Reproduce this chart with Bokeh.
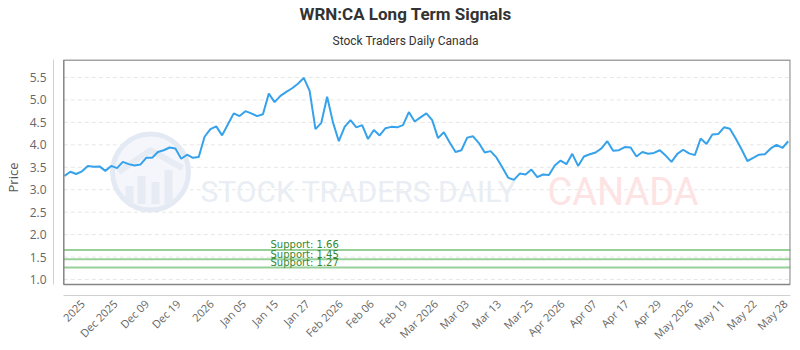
import math
from bokeh.plotting import figure
from bokeh.models import Range1d, FixedTicker, Label, BoxAnnotation, PrintfTickFormatter, Title
from bokeh.embed import file_html
from bokeh.resources import INLINE

# ---------------- data ----------------
prices = [
    3.31, 3.40, 3.35, 3.41, 3.53, 3.51, 3.52, 3.42, 3.53, 3.48,
    3.62, 3.57, 3.54, 3.56, 3.71, 3.71, 3.84, 3.88, 3.94, 3.92,
    3.69, 3.78, 3.71, 3.73, 4.18, 4.35, 4.41, 4.21, 4.46, 4.70,
    4.64, 4.75, 4.70, 4.64, 4.68, 5.14, 4.95, 5.09, 5.18, 5.26,
    5.36, 5.49, 5.20, 4.35, 4.49, 5.07, 4.50, 4.08, 4.40, 4.55,
    4.39, 4.44, 4.13, 4.33, 4.21, 4.37, 4.40, 4.39, 4.44, 4.73,
    4.52, 4.61, 4.70, 4.55, 4.15, 4.28, 4.05, 3.84, 3.88, 4.16,
    4.19, 4.04, 3.83, 3.86, 3.72, 3.50, 3.27, 3.22, 3.36, 3.34,
    3.45, 3.28, 3.34, 3.33, 3.54, 3.65, 3.57, 3.80, 3.53, 3.74,
    3.79, 3.83, 3.92, 4.08, 3.87, 3.88, 3.95, 3.94, 3.74, 3.84,
    3.80, 3.82, 3.88, 3.76, 3.62, 3.80, 3.89, 3.81, 3.77, 4.14,
    4.02, 4.23, 4.24, 4.39, 4.36, 4.14, 3.90, 3.64, 3.71, 3.78,
    3.79, 3.92, 4.00, 3.93, 4.08,
]
x_idx = list(range(len(prices)))

tick_labels = ["2025", "Dec 2025", "Dec 09", "Dec 19", "2026", "Jan 05", "Jan 15",
               "Jan 27", "Feb 2026", "Feb 06", "Feb 19", "Mar 2026", "Mar 03",
               "Mar 13", "Mar 25", "Apr 2026", "Apr 07", "Apr 17", "Apr 29",
               "May 2026", "May 11", "May 22", "May 28"]
tick_pos = [3.1, 8.7, 14.1, 19.5, 25.2, 30.7, 36.2, 41.6, 47.3, 52.6, 58.3, 63.6,
            68.9, 74.4, 79.9, 85.3, 90.8, 96.3, 101.8, 107.3, 112.7, 118.2, 123.5]

y_ticks = [1.0, 1.5, 2.0, 2.5, 3.0, 3.5, 4.0, 4.5, 5.0, 5.5]

support_levels = [1.66, 1.45, 1.27]
support_labels = ["Support: 1.66", "Support: 1.45", "Support: 1.27"]

title_text = "WRN:CA Long Term Signals"
subtitle_text = "Stock Traders Daily Canada"

# ---------------- geometry ----------------
W, H = 800, 350
FL, FR, FT, FB = 53, 790, 59, 296          # frame edges in pixels
X_START, X_END = -1.885, 124.39
Y_START, Y_END = 0.645, 5.90


def px2x(px):
    return X_START + (px - FL) / (FR - FL) * (X_END - X_START)


def py2y(py):
    return Y_START + (FB - py) / (FB - FT) * (Y_END - Y_START)


BOX_LEFT = px2x(63.3)
BOX_BOTTOM = py2y(285)

p = figure(width=W, height=H, output_backend="svg", toolbar_location=None,
           x_range=Range1d(X_START, X_END), y_range=Range1d(Y_START, Y_END),
           min_border_left=FL, min_border_right=W - FR,
           min_border_top=FT, min_border_bottom=H - FB)
p.outline_line_color = None
p.background_fill_color = "white"
p.border_fill_color = "white"
p.xgrid.visible = False
p.ygrid.visible = False

# titles: the built-in title sits furthest from the plot -> main title;
# the added Title sits next to the plot -> subtitle
p.title.text = title_text
p.title.text_font = "Roboto"
p.title.text_font_size = "17px"
p.title.text_font_style = "bold"
p.title.text_color = "#333333"
p.title.align = "left"
p.title.offset = 246
p.title.standoff = 0
p.title.vertical_align = "bottom"
p.add_layout(Title(text=subtitle_text, text_font="Roboto", text_font_size="12px",
                   text_font_style="normal", text_color="#333333", align="left",
                   offset=279, standoff=20, vertical_align="top"), "above")

# grid lines (dashed, inside the box)
p.segment(x0=[BOX_LEFT] * len(y_ticks), x1=[X_END] * len(y_ticks), y0=y_ticks, y1=y_ticks,
          line_color="#e6e6e6", line_width=1, line_dash="4 3")

# ---------------- watermark ----------------
cx, cy = 150, 172
p.scatter(x=[px2x(cx)], y=[py2y(cy)], size=76, marker="circle",
          fill_color="#f4f6fb", line_color="#e4eaf3", line_width=5)
bar_cx = [129, 141, 155, 168]
bar_top = [186, 176, 182, 170]
p.quad(left=[px2x(c - 4) for c in bar_cx], right=[px2x(c + 4) for c in bar_cx],
       top=[py2y(t) for t in bar_top], bottom=[py2y(204)] * 4,
       fill_color="#e6ebf4", line_color=None)
p.line(x=[px2x(118), px2x(150), px2x(182)], y=[py2y(172), py2y(150), py2y(168)],
       line_color="#e6ebf4", line_width=6)
p.add_layout(Label(x=px2x(200), y=py2y(192), text="STOCK TRADERS DAILY",
                   text_font="Roboto", text_font_size="30px", text_color="#e9edf4",
                   text_align="left", text_baseline="alphabetic"))
p.add_layout(Label(x=px2x(547), y=py2y(192), text="CANADA",
                   text_font="Roboto", text_font_size="38px", text_color="#fde3e3",
                   text_align="left", text_baseline="alphabetic"))

# ---------------- support lines ----------------
p.segment(x0=[BOX_LEFT] * len(support_levels), x1=[X_END] * len(support_levels),
          y0=support_levels, y1=support_levels, line_color="#98d098", line_width=2)
for lvl, txt in zip(support_levels, support_labels):
    p.add_layout(Label(x=px2x(270), y=lvl, y_offset=5, text=txt,
                       text_font="DejaVu Sans", text_font_size="10px",
                       text_color="#338833", text_align="left",
                       text_baseline="alphabetic"))

# ---------------- price line ----------------
p.line(x=x_idx, y=prices, line_color="#36a2eb", line_width=2)

# frame box
p.add_layout(BoxAnnotation(left=BOX_LEFT, right=X_END - 0.05, bottom=BOX_BOTTOM, top=Y_END - 0.01,
                           fill_alpha=0, line_color="#858585", line_alpha=1.0, line_width=1.5))

# ---------------- axes ----------------
yax = p.yaxis[0]
yax.ticker = FixedTicker(ticks=y_ticks)
yax.formatter = PrintfTickFormatter(format="%.1f")
yax.bounds = (BOX_BOTTOM, Y_END)
yax.axis_line_color = "#d0d0d0"
yax.major_tick_line_color = None
yax.minor_tick_line_color = None
yax.major_tick_out = 0
yax.major_tick_in = 0
yax.minor_tick_out = 0
yax.minor_tick_in = 0
yax.major_label_standoff = 7
yax.major_label_text_font = "Open Sans"
yax.major_label_text_font_size = "12px"
yax.major_label_text_color = "#666666"
yax.axis_label = "Price"
yax.axis_label_text_font = "Open Sans"
yax.axis_label_text_font_size = "13px"
yax.axis_label_text_font_style = "normal"
yax.axis_label_text_color = "#555555"
yax.axis_label_standoff = 5

xax = p.xaxis[0]
xax.ticker = FixedTicker(ticks=tick_pos)
xax.major_label_overrides = {pos: lab for pos, lab in zip(tick_pos, tick_labels)}
xax.bounds = (BOX_LEFT, X_END)
xax.axis_line_color = "#d0d0d0"
xax.major_tick_line_color = None
xax.minor_tick_line_color = None
xax.major_tick_out = 0
xax.major_tick_in = 0
xax.minor_tick_out = 0
xax.minor_tick_in = 0
xax.major_label_orientation = math.pi / 4
xax.major_label_standoff = 6
xax.major_label_text_font = "Open Sans"
xax.major_label_text_font_size = "11px"
xax.major_label_text_color = "#666666"

open("out.html", "w").write(file_html(p, INLINE))
